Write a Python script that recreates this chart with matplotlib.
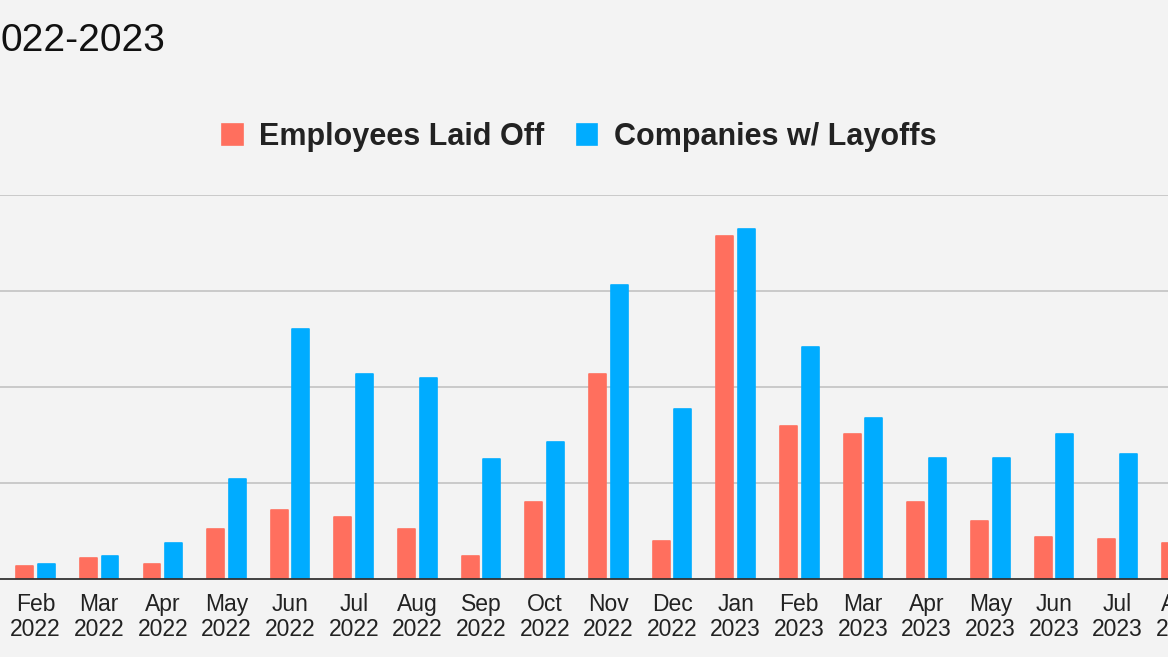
import numpy as np
import matplotlib.pyplot as plt

plt.rcParams['font.family'] = ['Liberation Sans', 'DejaVu Sans']

months = ["Feb\n2022", "Mar\n2022", "Apr\n2022", "May\n2022", "Jun\n2022", "Jul\n2022",
          "Aug\n2022", "Sep\n2022", "Oct\n2022", "Nov\n2022", "Dec\n2022", "Jan\n2023",
          "Feb\n2023", "Mar\n2023", "Apr\n2023", "May\n2023", "Jun\n2023", "Jul\n2023",
          "Aug\n2023"]
# values in gridline units (one gridline step = 25)
employees = [3.4, 5.5, 3.9, 13.0, 18.0, 16.2, 13.0, 6.0, 20.0, 53.5, 10.0, 89.3,
             39.8, 37.8, 20.0, 15.0, 11.0, 10.5, 9.4]
companies = [3.9, 6.0, 9.4, 26.0, 65.0, 53.5, 52.3, 31.2, 35.7, 76.5, 44.3, 91.2,
             60.5, 42.0, 31.5, 31.5, 37.8, 32.5, np.nan]
title_part = "022-2023"

red = "#ff6f5e"
blue = "#00acff"
bg = "#f3f3f3"

fig = plt.figure(figsize=(11.68, 6.57), dpi=100, facecolor=bg)
step = 63.65 / 1168
ax = fig.add_axes([-step, 78 / 657, 1 + 2 * step, 384 / 657])
ax.set_facecolor(bg)

x = np.arange(len(months))
w = 0.265
off = 0.17
ax.bar(x - off, employees, w, color=red, edgecolor=red, linewidth=1.2,
       joinstyle='round', label="Employees Laid Off", zorder=3)
ax.bar(x + off, companies, w, color=blue, edgecolor=blue, linewidth=1.2,
       joinstyle='round', label="Companies w/ Layoffs", zorder=3)

ax.set_xlim(-1 - 35.5 / 63.65, (1168 - 35.5) / 63.65 + 1)
ax.set_ylim(0, 100)
ax.set_yticks([25, 50, 75, 100])
ax.yaxis.grid(True, color="#c6c6c6", linewidth=1.3, zorder=0)
ax.tick_params(axis='y', left=False, labelleft=False)
ax.set_xticks(x)
ax.set_xticklabels(months, fontsize=16.5, linespacing=1.12, color="#222222")
ax.tick_params(axis='x', length=0, pad=10)
for s in ['top', 'right', 'left']:
    ax.spines[s].set_visible(False)
ax.spines['bottom'].set_color("#333333")
ax.spines['bottom'].set_linewidth(1.3)
ax.spines['bottom'].set_zorder(4)

fig.text(0.0, 1 - 41 / 657, title_part, fontsize=28, va='center', ha='left', color="#111111")

fig.legend(loc='center', bbox_to_anchor=(0.496, 1 - 137 / 657), ncol=2, frameon=False,
           prop={'size': 22, 'weight': 'bold'}, handlelength=0.68, handleheight=0.68,
           handletextpad=0.55, columnspacing=1.05, labelcolor="#222222")

fig.savefig("out.png", dpi=100, facecolor=bg)
